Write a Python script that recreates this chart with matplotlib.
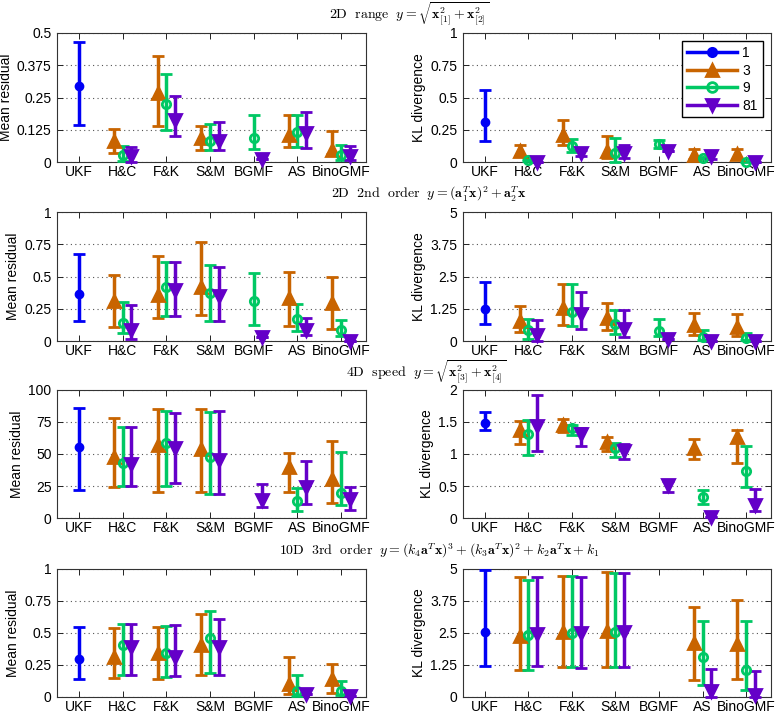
import numpy as np
import matplotlib
matplotlib.use("Agg")
import matplotlib.pyplot as plt
from matplotlib.ticker import FormatStrFormatter
from matplotlib.lines import Line2D

plt.rcParams['font.family'] = ['Liberation Sans', 'DejaVu Sans']
plt.rcParams['mathtext.fontset'] = 'cm'

nan = np.nan

# categories and series
methods = ['UKF', 'H&C', 'F&K', 'S&M', 'BGMF', 'AS', 'BinoGMF']
series = ['1', '3', '9', '81']

# rows: series 1, 3, 9, 81 ; columns: methods
# --- 2D range ---
range_mr_mean = [[0.296, nan, nan, nan, nan, nan, nan],
                 [nan, 0.080, 0.267, 0.093, nan, 0.106, 0.048],
                 [nan, 0.026, 0.225, 0.080, 0.093, 0.116, 0.026],
                 [nan, 0.025, 0.162, 0.080, 0.012, 0.112, 0.025]]
range_mr_low = [[0.145, nan, nan, nan, nan, nan, nan],
                [nan, 0.035, 0.141, 0.045, nan, 0.057, 0.032],
                [nan, 0.003, 0.123, 0.048, 0.052, 0.057, 0.009],
                [nan, 0.000, 0.102, 0.045, 0.012, 0.054, 0.006]]
range_mr_high = [[0.464, nan, nan, nan, nan, nan, nan],
                 [nan, 0.128, 0.410, 0.141, nan, 0.183, 0.121],
                 [nan, 0.063, 0.342, 0.149, 0.182, 0.183, 0.065],
                 [nan, 0.058, 0.255, 0.156, 0.012, 0.192, 0.061]]

range_kl_mean = [[0.313, nan, nan, nan, nan, nan, nan],
                 [nan, 0.083, 0.212, 0.083, nan, 0.057, 0.065],
                 [nan, 0.013, 0.121, 0.070, 0.140, 0.031, 0.003],
                 [nan, 0.000, 0.070, 0.070, 0.083, 0.049, 0.000]]
range_kl_low = [[0.165, nan, nan, nan, nan, nan, nan],
                [nan, 0.044, 0.130, 0.028, nan, 0.023, 0.023],
                [nan, 0.005, 0.075, 0.000, 0.109, 0.025, 0.000],
                [nan, 0.000, 0.044, 0.031, 0.083, 0.023, 0.000]]
range_kl_high = [[0.560, nan, nan, nan, nan, nan, nan],
                 [nan, 0.134, 0.323, 0.200, nan, 0.103, 0.103],
                 [nan, 0.020, 0.178, 0.186, 0.168, 0.038, 0.008],
                 [nan, 0.000, 0.095, 0.134, 0.083, 0.075, 0.000]]

# --- 2D 2nd order ---
poly2_mr_mean = [[0.364, nan, nan, nan, nan, nan, nan],
                 [nan, 0.309, 0.356, 0.421, nan, 0.330, 0.296],
                 [nan, 0.140, 0.416, 0.374, 0.309, 0.174, 0.083],
                 [nan, 0.083, 0.395, 0.348, 0.031, 0.083, 0.000]]
poly2_mr_low = [[0.156, nan, nan, nan, nan, nan, nan],
                [nan, 0.109, 0.182, 0.205, nan, 0.117, 0.096],
                [nan, 0.062, 0.195, 0.153, 0.127, 0.078, 0.036],
                [nan, 0.018, 0.195, 0.153, 0.031, 0.044, 0.000]]
poly2_mr_high = [[0.673, nan, nan, nan, nan, nan, nan],
                 [nan, 0.512, 0.662, 0.766, nan, 0.532, 0.499],
                 [nan, 0.304, 0.610, 0.590, 0.525, 0.283, 0.161],
                 [nan, 0.278, 0.610, 0.577, 0.031, 0.179, 0.000]]

poly2_kl_mean = [[1.23, nan, nan, nan, nan, nan, nan],
                 [nan, 0.77, 1.26, 0.90, nan, 0.61, 0.55],
                 [nan, 0.42, 1.13, 0.64, 0.39, 0.16, 0.13],
                 [nan, 0.25, 1.03, 0.45, 0.09, 0.00, 0.00]]
poly2_kl_low = [[0.65, nan, nan, nan, nan, nan, nan],
                [nan, 0.35, 0.61, 0.42, nan, 0.25, 0.19],
                [nan, 0.09, 0.57, 0.29, 0.18, 0.03, 0.03],
                [nan, 0.00, 0.48, 0.16, 0.09, 0.00, 0.00]]
poly2_kl_high = [[2.30, nan, nan, nan, nan, nan, nan],
                 [nan, 1.35, 2.20, 1.49, nan, 1.09, 1.06],
                 [nan, 0.87, 2.20, 1.22, 0.87, 0.44, 0.32],
                 [nan, 0.80, 1.90, 1.19, 0.09, 0.00, 0.00]]

# --- 4D speed ---
speed_mr_mean = [[55.8, nan, nan, nan, nan, nan, nan],
                 [nan, 47.3, 57.1, 53.8, nan, 39.5, 30.6],
                 [nan, 42.9, 58.4, 47.5, nan, 13.0, 19.5],
                 [nan, 42.1, 54.5, 45.5, 13.8, 23.9, 14.8]]
speed_mr_low = [[22.1, nan, nan, nan, nan, nan, nan],
                [nan, 24.2, 20.3, 20.3, nan, 20.0, 11.7],
                [nan, 24.7, 25.2, 18.7, nan, 5.2, 9.9],
                [nan, 24.7, 27.3, 18.7, 8.3, 10.9, 6.5]]
speed_mr_high = [[86.2, nan, nan, nan, nan, nan, nan],
                 [nan, 77.9, 85.2, 85.2, nan, 50.6, 60.3],
                 [nan, 71.4, 83.9, 83.1, nan, 23.4, 51.2],
                 [nan, 71.4, 81.8, 83.6, 26.8, 44.7, 24.2]]

speed_kl_mean = [[1.48, nan, nan, nan, nan, nan, nan],
                 [nan, 1.38, 1.45, 1.19, nan, 1.10, 1.27],
                 [nan, 1.31, 1.40, 1.10, nan, 0.33, 0.73],
                 [nan, 1.43, 1.31, 1.04, 0.52, 0.02, 0.21]]
speed_kl_low = [[1.38, nan, nan, nan, nan, nan, nan],
                [nan, 1.15, 1.34, 1.04, nan, 0.92, 0.86],
                [nan, 0.99, 1.30, 0.95, nan, 0.22, 0.49],
                [nan, 1.05, 1.12, 0.92, 0.41, 0.02, 0.11]]
speed_kl_high = [[1.66, nan, nan, nan, nan, nan, nan],
                 [nan, 1.52, 1.55, 1.27, nan, 1.24, 1.38],
                 [nan, 1.53, 1.45, 1.17, nan, 0.43, 1.13],
                 [nan, 1.92, 1.40, 1.15, 0.58, 0.02, 0.45]]

# --- 10D 3rd order ---
poly3_mr_mean = [[0.296, nan, nan, nan, nan, nan, nan],
                 [nan, 0.309, 0.340, 0.406, nan, 0.105, 0.144],
                 [nan, 0.406, 0.340, 0.458, nan, 0.045, 0.047],
                 [nan, 0.387, 0.314, 0.393, nan, 0.021, 0.005]]
poly3_mr_low = [[0.144, nan, nan, nan, nan, nan, nan],
                [nan, 0.149, 0.139, 0.170, nan, 0.026, 0.034],
                [nan, 0.170, 0.157, 0.188, nan, 0.008, 0.013],
                [nan, 0.170, 0.162, 0.175, nan, 0.021, 0.005]]
poly3_mr_high = [[0.550, nan, nan, nan, nan, nan, nan],
                 [nan, 0.542, 0.550, 0.647, nan, 0.314, 0.254],
                 [nan, 0.568, 0.555, 0.673, nan, 0.175, 0.126],
                 [nan, 0.568, 0.563, 0.607, nan, 0.021, 0.005]]

poly3_kl_mean = [[2.53, nan, nan, nan, nan, nan, nan],
                 [nan, 2.38, 2.55, 2.59, nan, 2.09, 2.07],
                 [nan, 2.42, 2.51, 2.55, nan, 1.57, 1.07],
                 [nan, 2.46, 2.51, 2.55, nan, 0.24, 0.07]]
poly3_kl_low = [[1.22, nan, nan, nan, nan, nan, nan],
                [nan, 1.07, 1.18, 1.18, nan, 0.65, 0.72],
                [nan, 1.07, 1.18, 1.18, nan, 0.46, 0.29],
                [nan, 1.22, 1.14, 1.18, nan, 0.00, 0.00]]
poly3_kl_high = [[4.95, nan, nan, nan, nan, nan, nan],
                 [nan, 4.69, 4.71, 4.88, nan, 3.53, 3.80],
                 [nan, 4.58, 4.71, 4.84, nan, 2.97, 2.97],
                 [nan, 4.69, 4.67, 4.84, nan, 1.11, 1.01]]

titles = [r"$\mathrm{2D\ \ range}\ \ y = \sqrt{\mathbf{x}_{[1]}^2 + \mathbf{x}_{[2]}^2}$",
          r"$\mathrm{2D\ \ 2nd\ \ order}\ \ y = (\mathbf{a}_1^T\mathbf{x})^2 + \mathbf{a}_2^T\mathbf{x}$",
          r"$\mathrm{4D\ \ speed}\ \ y = \sqrt{\mathbf{x}_{[3]}^2 + \mathbf{x}_{[4]}^2}$",
          r"$\mathrm{10D\ \ 3rd\ \ order}\ \ y = (k_4\mathbf{a}^T\mathbf{x})^3 + (k_3\mathbf{a}^T\mathbf{x})^2 + k_2\mathbf{a}^T\mathbf{x} + k_1$"]
title_x = [409, 429, 426, 439]
title_base = [19, 197, 377, 555]

panels = [[(range_mr_mean, range_mr_low, range_mr_high, 0.5),
           (range_kl_mean, range_kl_low, range_kl_high, 1)],
          [(poly2_mr_mean, poly2_mr_low, poly2_mr_high, 1),
           (poly2_kl_mean, poly2_kl_low, poly2_kl_high, 5)],
          [(speed_mr_mean, speed_mr_low, speed_mr_high, 100),
           (speed_kl_mean, speed_kl_low, speed_kl_high, 2)],
          [(poly3_mr_mean, poly3_mr_low, poly3_mr_high, 1),
           (poly3_kl_mean, poly3_kl_low, poly3_kl_high, 5)]]

colors = ['#0000f5', '#c86400', '#00c864', '#6400c8']
markers = ['o', '^', 'o', 'v']
msizes = [5, 8, 6, 8]
mfcs = ['#0000f5', '#c86400', 'none', '#6400c8']
offsets = [0.0, -0.2, 0.0, 0.2]

W, H = 778, 714
fig = plt.figure(figsize=(W / 100, H / 100), dpi=100)

col_x = [(57, 366), (463, 771)]
row_y = [(33, 162), (212, 341), (390, 518), (569, 697)]
ylabels = ['Mean residual', 'KL divergence']

x = np.arange(1, len(methods) + 1)
for r in range(4):
    fig.text(title_x[r] / W, 1 - title_base[r] / H, titles[r], ha='center',
             va='baseline', fontsize=10)
    for c in range(2):
        mean, low, high, ymax = panels[r][c]
        x0, x1 = col_x[c]
        t, b = row_y[r]
        ax = fig.add_axes([x0 / W, 1 - b / H, (x1 - x0) / W, (b - t) / H])
        for s in range(4):
            m = np.array(mean[s])
            lo = np.array(low[s])
            hi = np.array(high[s])
            ax.errorbar(x + offsets[s], m, yerr=[m - lo, hi - m],
                        fmt=markers[s], color=colors[s], ecolor=colors[s],
                        elinewidth=2.5, capsize=4, capthick=2,
                        ms=msizes[s], mfc=mfcs[s], mec=colors[s], mew=2,
                        clip_on=False, zorder=3)
        ax.set_xlim(0.5, 7.57)
        ax.set_ylim(0, ymax)
        ax.set_yticks(np.linspace(0, ymax, 5))
        ax.yaxis.set_major_formatter(FormatStrFormatter('%g'))
        ax.set_xticks(x)
        ax.set_xticklabels(methods)
        ax.tick_params(direction='in', length=4, width=0.7, top=True,
                       right=True, labelsize=10, colors='#222222')
        ax.tick_params(axis='y', pad=4)
        ax.tick_params(axis='x', pad=2)
        ax.tick_params(labelcolor='black')
        ax.yaxis.grid(True, linestyle=(0, (1, 3)), color='#555555', lw=0.8)
        for sp in ax.spines.values():
            sp.set_color('#333333')
            sp.set_linewidth(0.8)
        ax.set_ylabel(ylabels[c], fontsize=10, labelpad=3)
        if r == 0 and c == 1:
            handles = [Line2D([], [], color=colors[s], marker=markers[s],
                              lw=2.5, ms=msizes[s] + 1, mfc=mfcs[s],
                              mec=colors[s], mew=2) for s in range(4)]
            ax.legend(handles, series, loc='upper right', fontsize=10,
                      handlelength=3.6, fancybox=False, framealpha=1,
                      edgecolor='black', borderaxespad=0.6,
                      labelspacing=0.25, handletextpad=0.4,
                      borderpad=0.35)

fig.savefig('out.png', dpi=100)
